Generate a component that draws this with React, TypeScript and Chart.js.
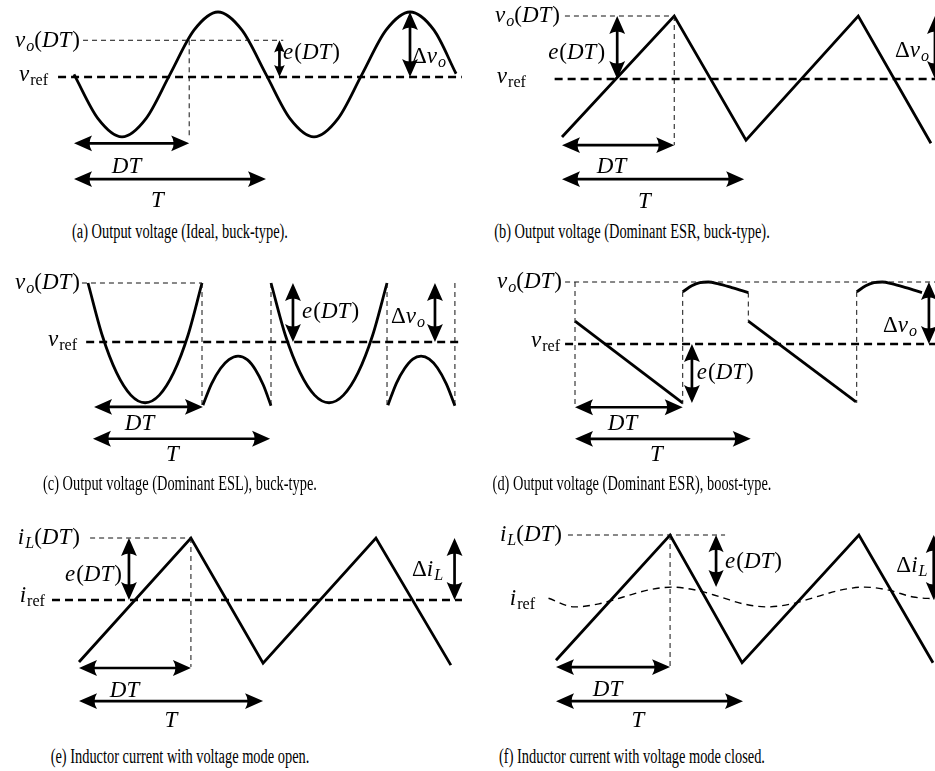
import React, { useEffect, useRef } from "react";
import { Chart, registerables } from "chart.js";

Chart.register(...registerables);

// ---------------- data (time in units of T, level in normalised units, reference = 0) ----------------
// (a) Output voltage, ideal buck
const aTime = [0, 0.125, 0.25, 0.375, 0.5, 0.625, 0.75, 0.875, 1, 1.125, 1.25, 1.375, 1.5, 1.625, 1.75, 1.875, 1.99];
const aVolt = [0.04, -0.64, -0.92, -0.64, 0.04, 0.72, 1.0, 0.72, 0.04, -0.64, -0.92, -0.64, 0.04, 0.72, 1.0, 0.72, 0.05];
const aDuty = 0.6;
const aVoDT = 0.565;

// (b) Output voltage, dominant ESR, buck
const bTime = [0, 0.61, 1.0, 1.61, 2.005];
const bVolt = [-0.92, 1.0, -0.97, 1.0, -1.02];
const bDuty = 0.61;

// (c) Output voltage, dominant ESL, buck
const cOnTime1 = [0, 0.078, 0.156, 0.234, 0.312, 0.39, 0.468, 0.546, 0.623];
const cOnVolt1 = [1.0, 0.11, -0.52, -0.9, -1.03, -0.9, -0.52, 0.11, 1.0];
const cOffTime1 = [0.628, 0.675, 0.724, 0.77, 0.82, 0.87, 0.915, 0.958, 1.0];
const cOffVolt1 = [-1.07, -0.71, -0.45, -0.3, -0.24, -0.3, -0.47, -0.73, -1.08];
const cOnTime2 = [1.0, 1.079, 1.159, 1.238, 1.317, 1.396, 1.476, 1.555, 1.634];
const cOnVolt2 = [1.0, 0.11, -0.52, -0.9, -1.03, -0.9, -0.52, 0.11, 1.0];
const cOffTime2 = [1.639, 1.685, 1.73, 1.775, 1.82, 1.865, 1.91, 1.958, 2.005];
const cOffVolt2 = [-1.07, -0.7, -0.45, -0.29, -0.24, -0.29, -0.44, -0.71, -1.08];
const cDuty = 0.623;

// (d) Output voltage, dominant ESR, boost
const dRampTime1 = [0, 0.618];
const dRampVolt1 = [0.37, -0.95];
const dCapTime1 = [0.619, 0.671, 0.718, 0.766, 0.824, 0.901, 0.996];
const dCapVolt1 = [0.84, 0.94, 0.99, 1.0, 0.97, 0.91, 0.83];
const dRampTime2 = [0.996, 1.615];
const dRampVolt2 = [0.37, -0.935];
const dCapTime2 = [1.619, 1.671, 1.718, 1.766, 1.824, 1.901, 1.994];
const dCapVolt2 = [0.84, 0.94, 0.99, 1.0, 0.97, 0.91, 0.83];
const dDuty = 0.619;

// (e) Inductor current, voltage mode open
const eTime = [0, 0.605, 0.995, 1.605, 2.01];
const eCurr = [-1.0, 1.0, -1.02, 1.0, -1.05];
const eDuty = 0.605;

// (f) Inductor current, voltage mode closed
const fTime = [0, 0.61, 0.995, 1.62, 2.016];
const fCurr = [-1.02, 1.0, -1.06, 1.0, -1.06];
const fRefTime = [-0.04, 0.1, 0.23, 0.36, 0.49, 0.62, 0.75, 0.88, 1.0, 1.13, 1.26, 1.39, 1.52, 1.65, 1.78, 1.91, 2.03];
const fRefCurr = [-0.02, -0.16, -0.11, 0.0, 0.11, 0.16, 0.11, 0.0, -0.11, -0.16, -0.11, 0.0, 0.11, 0.16, 0.11, 0.0, -0.03];
const fDuty = 0.61;

// ---------------- labels ----------------
type Part = [string, "i" | "r" | "si" | "sr"];
const VO_DT: Part[] = [["v", "i"], ["o", "si"], ["(", "r"], ["DT", "i"], [")", "r"]];
const V_REF: Part[] = [["v", "i"], ["ref", "sr"]];
const E_DT: Part[] = [["e", "i"], ["(", "r"], ["DT", "i"], [")", "r"]];
const DV_O: Part[] = [["Δ", "r"], ["v", "i"], ["o", "si"]];
const DT_L: Part[] = [["DT", "i"]];
const T_L: Part[] = [["T", "i"]];
const IL_DT: Part[] = [["i", "i"], ["L", "si"], ["(", "r"], ["DT", "i"], [")", "r"]];
const I_REF: Part[] = [["i", "i"], ["ref", "sr"]];
const DI_L: Part[] = [["Δ", "r"], ["i", "i"], ["L", "si"]];

type Kind = "wave" | "ref" | "guide" | "refwave";
interface Curve { x: number[]; y: number[]; kind: Kind; smooth?: boolean }
interface Arrow { x: [number, number]; y: [number, number] }
interface Label { parts: Part[]; x: number; y: number; align: "left" | "right" | "center" }
interface Spec {
  box: [number, number, number, number];
  origin: [number, number];
  unit: [number, number];
  curves: Curve[];
  arrows: Arrow[];
  labels: Label[];
}

const hline = (x0: number, x1: number, y: number, kind: Kind): Curve => ({ x: [x0, x1], y: [y, y], kind });
const vline = (x: number, y0: number, y1: number): Curve => ({ x: [x, x], y: [y0, y1], kind: "guide" });

const SPECS: Spec[] = [
  {
    box: [0, 0, 467, 216], origin: [74, 77], unit: [192, 65],
    curves: [
      hline(-0.083, 2.02, 0, "ref"),
      hline(0.047, 1.09, aVoDT, "guide"),
      vline(aDuty, aVoDT, -0.92),
      { x: aTime, y: aVolt, kind: "wave", smooth: true },
    ],
    arrows: [
      { x: [1.07, 1.07], y: [aVoDT, 0] },
      { x: [1.75, 1.75], y: [1.0, 0] },
      { x: [0, aDuty], y: [-1.02, -1.02] },
      { x: [0, 1], y: [-1.57, -1.57] },
    ],
    labels: [
      { parts: VO_DT, x: 0.031, y: 0.56, align: "right" },
      { parts: V_REF, x: -0.135, y: 0.04, align: "right" },
      { parts: E_DT, x: 1.089, y: 0.377, align: "left" },
      { parts: DV_O, x: 1.76, y: 0.31, align: "left" },
      { parts: DT_L, x: 0.276, y: -1.385, align: "center" },
      { parts: T_L, x: 0.4375, y: -1.91, align: "center" },
    ],
  },
  {
    box: [467, 0, 468, 216], origin: [562, 79], unit: [184, 63],
    curves: [
      hline(-0.04, 2.1, 0, "ref"),
      hline(0.016, bDuty, 1, "guide"),
      vline(bDuty, 1, -1.05),
      { x: bTime, y: bVolt, kind: "wave" },
    ],
    arrows: [
      { x: [0.3, 0.3], y: [1, 0] },
      { x: [2.027, 2.027], y: [1, 0] },
      { x: [0, bDuty], y: [-1.05, -1.05] },
      { x: [0, 0.99], y: [-1.59, -1.59] },
    ],
    labels: [
      { parts: VO_DT, x: -0.011, y: 1.0, align: "right" },
      { parts: V_REF, x: -0.196, y: 0.03, align: "right" },
      { parts: E_DT, x: 0.234, y: 0.42, align: "right" },
      { parts: DV_O, x: 1.81, y: 0.45, align: "left" },
      { parts: DT_L, x: 0.272, y: -1.4, align: "center" },
      { parts: T_L, x: 0.45, y: -1.95, align: "center" },
    ],
  },
  {
    box: [0, 243, 467, 226], origin: [88, 342], unit: [183, 59],
    curves: [
      hline(-0.01, 2.044, 0, "ref"),
      hline(-0.033, cDuty, 1, "guide"),
      vline(cDuty, 1, -1.07),
      vline(1.0, 1, -1.08),
      vline(1.634, 1, -1.08),
      vline(2.005, 1, -1.08),
      { x: cOnTime1, y: cOnVolt1, kind: "wave", smooth: true },
      { x: cOffTime1, y: cOffVolt1, kind: "wave", smooth: true },
      { x: cOnTime2, y: cOnVolt2, kind: "wave", smooth: true },
      { x: cOffTime2, y: cOffVolt2, kind: "wave", smooth: true },
    ],
    arrows: [
      { x: [1.12, 1.12], y: [1, 0] },
      { x: [1.896, 1.896], y: [1, 0] },
      { x: [0.033, 0.628], y: [-1.1, -1.1] },
      { x: [0.027, 0.995], y: [-1.64, -1.64] },
    ],
    labels: [
      { parts: VO_DT, x: -0.044, y: 1.0, align: "right" },
      { parts: V_REF, x: -0.06, y: 0.03, align: "right" },
      { parts: E_DT, x: 1.17, y: 0.51, align: "left" },
      { parts: DV_O, x: 1.656, y: 0.42, align: "left" },
      { parts: DT_L, x: 0.284, y: -1.39, align: "center" },
      { parts: T_L, x: 0.464, y: -1.92, align: "center" },
    ],
  },
  {
    box: [467, 243, 468, 226], origin: [575, 344], unit: [174, 62],
    curves: [
      hline(-0.057, 2.07, 0, "ref"),
      hline(-0.057, 2.07, 1, "guide"),
      vline(0, 1, -0.98),
      vline(dDuty, 0.84, -0.97),
      vline(0.996, 0.83, 0.37),
      vline(1.619, 0.84, -0.95),
      { x: dRampTime1, y: dRampVolt1, kind: "wave" },
      { x: dCapTime1, y: dCapVolt1, kind: "wave", smooth: true },
      { x: dRampTime2, y: dRampVolt2, kind: "wave" },
      { x: dCapTime2, y: dCapVolt2, kind: "wave", smooth: true },
    ],
    arrows: [
      { x: [0.672, 0.672], y: [0, -0.95] },
      { x: [2.034, 2.034], y: [1, 0] },
      { x: [0, dDuty], y: [-1.02, -1.02] },
      { x: [0, 1.01], y: [-1.53, -1.53] },
    ],
    labels: [
      { parts: VO_DT, x: -0.075, y: 1.0, align: "right" },
      { parts: V_REF, x: -0.086, y: 0.05, align: "right" },
      { parts: E_DT, x: 0.7, y: -0.47, align: "left" },
      { parts: DV_O, x: 1.77, y: 0.29, align: "left" },
      { parts: DT_L, x: 0.276, y: -1.29, align: "center" },
      { parts: T_L, x: 0.47, y: -1.79, align: "center" },
    ],
  },
  {
    box: [0, 493, 467, 238], origin: [79, 600], unit: [185, 62],
    curves: [
      hline(-0.146, 2.07, 0, "ref"),
      hline(0.06, eDuty, 1, "guide"),
      vline(eDuty, 1, -1.08),
      { x: eTime, y: eCurr, kind: "wave" },
    ],
    arrows: [
      { x: [0.27, 0.27], y: [1, 0] },
      { x: [2.03, 2.03], y: [1, 0] },
      { x: [0, eDuty], y: [-1.097, -1.097] },
      { x: [0, 0.995], y: [-1.63, -1.63] },
    ],
    labels: [
      { parts: IL_DT, x: 0.005, y: 1.0, align: "right" },
      { parts: I_REF, x: -0.184, y: 0.06, align: "right" },
      { parts: E_DT, x: 0.232, y: 0.4, align: "right" },
      { parts: DI_L, x: 1.8, y: 0.48, align: "left" },
      { parts: DT_L, x: 0.249, y: -1.47, align: "center" },
      { parts: T_L, x: 0.5, y: -1.95, align: "center" },
    ],
  },
  {
    box: [467, 493, 468, 238], origin: [556, 597], unit: [187, 62],
    curves: [
      hline(0.064, 0.904, 1, "guide"),
      vline(fDuty, 1, -1.13),
      { x: fRefTime, y: fRefCurr, kind: "refwave", smooth: true },
      { x: fTime, y: fCurr, kind: "wave" },
    ],
    arrows: [
      { x: [0.856, 0.856], y: [1, 0.16] },
      { x: [2.02, 2.02], y: [1, -0.05] },
      { x: [0, fDuty], y: [-1.13, -1.13] },
      { x: [0, 1.0], y: [-1.68, -1.68] },
    ],
    labels: [
      { parts: IL_DT, x: 0.032, y: 1.0, align: "right" },
      { parts: I_REF, x: -0.112, y: -0.03, align: "right" },
      { parts: E_DT, x: 0.904, y: 0.565, align: "left" },
      { parts: DI_L, x: 1.82, y: 0.5, align: "left" },
      { parts: DT_L, x: 0.278, y: -1.5, align: "center" },
      { parts: T_L, x: 0.44, y: -2.0, align: "center" },
    ],
  },
];

const CAPTIONS = [
  "(a) Output voltage (Ideal, buck-type).",
  "(b) Output voltage (Dominant ESR, buck-type).",
  "(c) Output voltage (Dominant ESL), buck-type.",
  "(d) Output voltage (Dominant ESR), boost-type.",
  "(e) Inductor current with voltage mode open.",
  "(f) Inductor current with voltage mode closed.",
];

// ---------------- styling ----------------
const SERIF = '"Liberation Serif", "Times New Roman", Times, serif';
const MATH_SIZE = 23;

const STYLE: Record<Kind, { color: string; width: number; dash: number[] }> = {
  wave: { color: "#000", width: 2.8, dash: [] },
  ref: { color: "#000", width: 2.7, dash: [8, 5] },
  guide: { color: "#111", width: 1, dash: [5, 4] },
  refwave: { color: "#000", width: 1.4, dash: [7, 5] },
};

function drawMath(ctx: CanvasRenderingContext2D, parts: Part[], x: number, y: number, align: string) {
  const size = MATH_SIZE;
  const fontOf = (st: string) => {
    const sub = st[0] === "s";
    const it = st.endsWith("i");
    return `${it ? "italic " : ""}${sub ? size * 0.7 : size}px ${SERIF}`;
  };
  const widths = parts.map(([t, st]) => {
    ctx.font = fontOf(st);
    return ctx.measureText(t).width + (st === "i" ? 1 : 0);
  });
  const total = widths.reduce((a, b) => a + b, 0);
  let cx = align === "right" ? x - total : align === "center" ? x - total / 2 : x;
  const base = y + 0.27 * size;
  ctx.fillStyle = "#000";
  ctx.textBaseline = "alphabetic";
  ctx.textAlign = "left";
  parts.forEach(([t, st], i) => {
    ctx.font = fontOf(st);
    ctx.fillText(t, cx, st[0] === "s" ? base + 0.17 * size : base);
    cx += widths[i];
  });
}

function drawArrow(ctx: CanvasRenderingContext2D, x1: number, y1: number, x2: number, y2: number) {
  const len = Math.hypot(x2 - x1, y2 - y1);
  const ux = (x2 - x1) / len;
  const uy = (y2 - y1) / len;
  const hl = Math.min(18, len * 0.33);
  const hw = hl * 0.44;
  ctx.strokeStyle = "#000";
  ctx.fillStyle = "#000";
  ctx.lineWidth = 2.7;
  ctx.setLineDash([]);
  ctx.beginPath();
  ctx.moveTo(x1 + ux * hl * 0.8, y1 + uy * hl * 0.8);
  ctx.lineTo(x2 - ux * hl * 0.8, y2 - uy * hl * 0.8);
  ctx.stroke();
  const head = (tx: number, ty: number, dx: number, dy: number) => {
    const bx = tx - dx * hl;
    const by = ty - dy * hl;
    const px = -dy;
    const py = dx;
    ctx.beginPath();
    ctx.moveTo(tx, ty);
    ctx.lineTo(bx + px * hw, by + py * hw);
    ctx.quadraticCurveTo(tx - dx * hl * 0.72, ty - dy * hl * 0.72, bx - px * hw, by - py * hw);
    ctx.closePath();
    ctx.fill();
  };
  head(x2, y2, ux, uy);
  head(x1, y1, -ux, -uy);
}

function Panel({ spec }: { spec: Spec }) {
  const ref = useRef<HTMLCanvasElement | null>(null);
  useEffect(() => {
    const canvas = ref.current;
    if (!canvas) return;
    const [L, T, W, H] = spec.box;
    const [X0, Y0] = spec.origin;
    const [TX, UY] = spec.unit;
    const datasets = spec.curves.map((c) => {
      const st = STYLE[c.kind];
      return {
        data: c.x.map((v, i) => ({ x: v, y: c.y[i] })),
        borderColor: st.color,
        borderWidth: st.width,
        borderDash: st.dash,
        borderCapStyle: "butt" as const,
        borderJoinStyle: "miter" as const,
        pointRadius: 0,
        fill: false,
        tension: 0,
        cubicInterpolationMode: c.smooth ? ("monotone" as const) : ("default" as const),
        clip: false as any,
      };
    });
    const annot = {
      id: "annot",
      afterDatasetsDraw(chart: any) {
        const ctx: CanvasRenderingContext2D = chart.ctx;
        const xs = chart.scales.x;
        const ys = chart.scales.y;
        ctx.save();
        spec.arrows.forEach((a) => {
          drawArrow(ctx, xs.getPixelForValue(a.x[0]), ys.getPixelForValue(a.y[0]), xs.getPixelForValue(a.x[1]), ys.getPixelForValue(a.y[1]));
        });
        spec.labels.forEach((l) => {
          drawMath(ctx, l.parts, xs.getPixelForValue(l.x), ys.getPixelForValue(l.y), l.align);
        });
        ctx.restore();
      },
    };
    const chart = new Chart(canvas, {
      type: "line",
      data: { datasets: datasets as any },
      options: {
        animation: false,
        responsive: false,
        devicePixelRatio: 1,
        events: [],
        layout: { padding: 0 },
        plugins: { legend: { display: false }, tooltip: { enabled: false }, title: { display: false } },
        scales: {
          x: { type: "linear", display: false, min: (L - X0) / TX, max: (L + W - X0) / TX },
          y: { type: "linear", display: false, min: (Y0 - T - H) / UY, max: (Y0 - T) / UY },
        },
      },
      plugins: [annot],
    });
    return () => chart.destroy();
  }, [spec]);
  const [L, T, W, H] = spec.box;
  return (
    <canvas
      ref={ref}
      width={W}
      height={H}
      style={{ position: "absolute", left: L, top: T, width: W, height: H }}
    />
  );
}

const CAPTION_BASELINES = [237, 489, 762];
const CAPTION_CENTERS = [180, 632];

export default function App() {
  return (
    <div style={{ position: "absolute", left: 0, top: 0, width: 935, height: 771, background: "#fff", overflow: "hidden" }}>
      {SPECS.map((s, i) => (
        <Panel key={i} spec={s} />
      ))}
      {CAPTIONS.map((c, i) => {
        const col = i % 2;
        const row = Math.floor(i / 2);
        return (
          <div
            key={c}
            style={{
              position: "absolute",
              left: CAPTION_CENTERS[col] - 250,
              width: 500,
              top: CAPTION_BASELINES[row] - 18,
              height: 24,
              lineHeight: "24px",
              textAlign: "center",
              fontFamily: SERIF,
              fontSize: 20,
              color: "#000",
              whiteSpace: "nowrap",
              transform: "scaleX(0.72)",
              transformOrigin: "50% 50%",
            }}
          >
            {c}
          </div>
        );
      })}
    </div>
  );
}
